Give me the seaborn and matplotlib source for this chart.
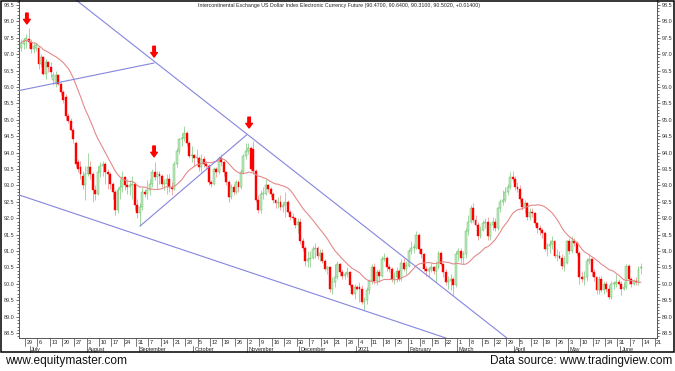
import numpy as np
import pandas as pd
import matplotlib
matplotlib.use('Agg')
import matplotlib.pyplot as plt
import matplotlib.transforms as mtransforms
from matplotlib.patches import Rectangle
import seaborn as sns

# Dados diarios (OHLC), 25/06/2020 a 11/06/2021 (dias uteis)
opens = [
    97.20, 97.30, 97.40, 97.45,
    97.38, 97.15, 97.20, 97.20, 96.70, 96.90, 96.40, 96.75, 96.60, 96.20, 96.10, 96.35, 96.10, 95.85, 95.70, 95.10, 94.95, 94.70, 94.30, 93.70, 93.55, 93.30, 93.00,
    93.35, 93.55, 93.35, 92.85, 92.75, 93.40, 93.60, 93.65, 93.40, 93.35, 93.05, 92.80, 92.25, 92.85, 92.95, 93.25, 93.00, 92.95, 93.00, 93.05, 92.40,
    92.15, 92.35, 92.80, 92.75, 92.85, 93.05, 93.40, 93.25, 93.35, 93.30, 93.05, 93.05, 93.20, 92.95, 92.90, 93.65, 94.05, 94.40, 94.45, 94.60, 94.30, 93.90,
    93.92, 93.85, 93.85, 93.55, 93.80, 93.65, 93.60, 93.10, 93.05, 93.50, 93.40, 93.85, 93.70, 93.40, 93.10, 92.65, 92.95, 92.80, 93.10, 92.95, 93.40, 93.90,
    94.05, 94.15, 94.10, 93.45, 92.55, 92.25, 92.75, 92.75, 93.00, 92.90, 92.75, 92.55, 92.45, 92.50, 92.35, 92.40, 92.50, 92.20, 92.05, 92.00, 91.80,
    91.90, 91.30, 91.10, 90.70, 90.75, 90.80, 91.05, 91.10, 90.85, 90.95, 90.70, 90.45, 90.50, 89.85, 90.05, 90.20, 90.60, 90.35, 90.25, 90.30, 90.35, 89.95, 89.70,
    89.90, 89.90, 89.85, 89.45, 89.50, 89.80, 90.10, 90.50, 90.10, 90.35, 90.25, 90.75, 90.80, 90.50, 90.45, 90.15, 90.20, 90.40, 90.15, 90.65, 90.45,
    90.55, 91.00, 91.10, 91.10, 91.50, 91.05, 90.90, 90.45, 90.40, 90.45, 90.50, 90.40, 90.50, 90.95, 90.60, 90.35, 90.05, 90.10, 90.15, 89.95,
    90.90, 91.00, 90.80, 90.90, 91.60, 91.90, 92.30, 91.95, 91.80, 91.45, 91.65, 91.85, 91.90, 91.45, 91.80, 91.90, 91.70, 92.30, 92.50, 92.55, 92.80, 92.95, 93.25,
    93.20, 92.95, 92.90, 92.60, 92.35, 92.45, 92.05, 92.20, 92.15, 91.85, 91.70, 91.65, 91.55, 91.05, 91.15, 91.20, 91.30, 90.85, 90.85, 90.80, 90.55, 90.65,
    91.30, 91.00, 91.30, 91.25, 90.95, 90.20, 90.15, 90.20, 90.70, 90.75, 90.35, 90.20, 89.80, 90.15, 89.80, 90.00, 89.85, 89.60, 90.00, 90.00, 90.05,
    90.00, 89.85, 89.90, 90.55, 90.15, 90.00, 90.10, 90.05, 90.47,
]
highs = [
    97.45, 97.50, 97.60, 97.80,
    97.45, 97.35, 97.35, 97.25, 97.00, 96.95, 96.85, 96.80, 96.75, 96.45, 96.50, 96.40, 96.15, 95.90, 95.80, 95.20, 95.05, 94.75, 94.35, 93.80, 93.75, 93.45, 93.60,
    94.00, 93.75, 93.40, 93.00, 93.60, 93.70, 93.75, 93.70, 93.50, 93.40, 93.10, 92.85, 92.95, 93.20, 93.45, 93.30, 93.20, 93.15, 93.30, 93.10, 92.60,
    92.45, 92.95, 92.90, 93.15, 93.20, 93.50, 93.70, 93.45, 93.45, 93.35, 93.20, 93.35, 93.35, 93.10, 93.75, 94.15, 94.45, 94.60, 94.80, 94.65, 94.35, 94.20,
    93.95, 94.10, 93.90, 93.95, 93.90, 93.75, 93.65, 93.15, 93.55, 93.55, 93.90, 93.95, 93.75, 93.45, 93.15, 93.05, 93.05, 93.15, 93.15, 93.50, 93.95, 94.30,
    94.30, 94.20, 94.35, 93.50, 92.70, 92.85, 92.95, 93.20, 93.05, 92.95, 92.80, 92.60, 92.65, 92.70, 92.50, 92.80, 92.55, 92.25, 92.15, 92.05, 92.00,
    92.00, 91.40, 91.15, 91.00, 91.00, 91.15, 91.25, 91.15, 91.05, 91.05, 90.75, 90.55, 90.55, 90.20, 90.60, 90.70, 90.65, 90.45, 90.35, 90.50, 90.40, 90.00, 90.00,
    89.95, 90.05, 89.95, 89.60, 89.90, 90.15, 90.60, 90.65, 90.45, 90.45, 90.85, 90.95, 90.85, 90.60, 90.50, 90.35, 90.50, 90.45, 90.75, 90.80, 90.70,
    91.05, 91.30, 91.20, 91.60, 91.55, 91.10, 90.95, 90.55, 90.50, 90.65, 90.55, 90.70, 91.00, 91.00, 90.65, 90.45, 90.25, 90.30, 90.20, 91.00,
    91.10, 91.10, 91.00, 91.70, 92.10, 92.40, 92.45, 92.10, 91.90, 91.75, 91.95, 92.00, 92.05, 91.90, 92.05, 92.00, 92.35, 92.60, 92.85, 92.95, 93.05, 93.40, 93.45,
    93.30, 93.10, 93.00, 92.65, 92.55, 92.50, 92.30, 92.30, 92.20, 91.90, 91.80, 91.70, 91.60, 91.25, 91.35, 91.45, 91.35, 91.05, 91.00, 90.90, 90.85, 91.35,
    91.40, 91.45, 91.40, 91.30, 91.00, 90.40, 90.40, 90.80, 90.90, 90.80, 90.45, 90.25, 90.25, 90.25, 90.10, 90.10, 89.95, 90.10, 90.10, 90.30, 90.15,
    90.10, 90.05, 90.60, 90.60, 90.20, 90.15, 90.20, 90.55, 90.64,
]
lows = [
    97.10, 97.15, 97.20, 97.20,
    97.05, 97.05, 97.10, 96.55, 96.60, 96.35, 96.25, 96.45, 96.30, 96.05, 96.00, 96.05, 95.75, 95.50, 95.00, 94.90, 94.65, 94.30, 93.55, 93.40, 93.20, 92.90, 92.55,
    93.30, 93.20, 92.50, 92.55, 92.70, 93.25, 93.30, 93.05, 92.90, 92.90, 92.60, 92.10, 92.15, 92.60, 92.80, 92.85, 92.75, 92.70, 92.60, 92.25, 92.00,
    91.75, 92.25, 92.65, 92.60, 92.70, 92.95, 93.15, 92.90, 93.05, 92.95, 92.85, 92.75, 92.80, 92.70, 92.85, 93.55, 93.95, 94.20, 94.35, 94.20, 93.85, 93.70,
    93.60, 93.70, 93.45, 93.40, 93.55, 93.50, 93.00, 92.95, 93.00, 93.25, 93.35, 93.60, 93.30, 93.00, 92.50, 92.60, 92.70, 92.75, 92.80, 92.90, 93.35, 93.80,
    93.95, 93.45, 93.35, 92.50, 92.15, 92.15, 92.60, 92.70, 92.80, 92.65, 92.45, 92.30, 92.30, 92.25, 92.20, 92.05, 92.15, 91.95, 91.90, 91.70, 91.55,
    91.20, 91.00, 90.55, 90.50, 90.50, 90.75, 90.80, 90.75, 90.70, 90.65, 90.40, 90.30, 89.75, 89.70, 89.90, 90.15, 90.25, 90.15, 90.15, 90.20, 89.90, 89.65, 89.55,
    89.80, 89.45, 89.40, 89.20, 89.40, 89.70, 90.00, 90.00, 89.95, 90.05, 90.20, 90.70, 90.40, 90.35, 90.05, 90.00, 90.05, 90.10, 90.10, 90.40, 90.30,
    90.50, 90.90, 90.95, 91.05, 90.95, 90.80, 90.40, 90.25, 90.20, 90.35, 90.30, 90.05, 90.45, 90.55, 90.20, 89.95, 89.85, 89.80, 89.65, 89.90,
    90.70, 90.65, 90.60, 90.80, 91.50, 91.85, 91.85, 91.75, 91.35, 91.40, 91.60, 91.70, 91.35, 91.35, 91.65, 91.60, 91.65, 92.20, 92.40, 92.50, 92.70, 92.90, 93.10,
    92.85, 92.80, 92.50, 92.25, 92.15, 91.95, 91.95, 92.05, 91.75, 91.55, 91.50, 91.40, 91.00, 90.85, 90.95, 91.05, 90.80, 90.70, 90.75, 90.45, 90.40, 90.60,
    90.90, 90.95, 91.15, 90.85, 90.00, 90.05, 89.95, 90.10, 90.60, 90.25, 90.10, 89.70, 89.70, 89.75, 89.70, 89.75, 89.55, 89.55, 89.85, 89.90, 89.95,
    89.65, 89.80, 89.85, 90.00, 89.90, 89.95, 89.95, 89.95, 90.31,
]
closes = [
    97.35, 97.42, 97.50, 97.38,
    97.15, 97.25, 97.28, 96.70, 96.90, 96.40, 96.75, 96.60, 96.45, 96.35, 96.35, 96.10, 95.85, 95.60, 95.10, 94.95, 94.70, 94.40, 93.65, 93.50, 93.35, 93.00, 93.35,
    93.55, 93.35, 92.85, 92.75, 93.40, 93.60, 93.65, 93.40, 93.35, 93.05, 92.80, 92.25, 92.85, 92.95, 93.25, 93.00, 92.95, 93.00, 93.05, 92.40, 92.15,
    92.35, 92.80, 92.75, 92.85, 93.05, 93.40, 93.25, 93.35, 93.30, 93.05, 93.07, 93.20, 92.95, 92.90, 93.65, 94.05, 94.40, 94.45, 94.60, 94.30, 93.90, 93.92,
    93.85, 93.88, 93.55, 93.80, 93.65, 93.60, 93.10, 93.05, 93.50, 93.40, 93.85, 93.70, 93.40, 93.10, 92.65, 92.95, 92.80, 93.10, 92.95, 93.40, 93.90, 94.05,
    94.15, 93.50, 93.45, 92.55, 92.25, 92.75, 92.78, 93.00, 92.90, 92.75, 92.55, 92.45, 92.50, 92.35, 92.40, 92.50, 92.20, 92.05, 92.00, 91.80, 91.90,
    91.30, 91.10, 90.70, 90.75, 90.80, 91.05, 91.10, 90.85, 90.95, 90.70, 90.45, 90.50, 89.85, 90.05, 90.20, 90.60, 90.35, 90.25, 90.30, 90.35, 89.95, 89.70, 89.90,
    89.85, 89.85, 89.45, 89.50, 89.80, 90.10, 90.50, 90.10, 90.35, 90.25, 90.75, 90.80, 90.50, 90.45, 90.15, 90.20, 90.40, 90.15, 90.65, 90.45, 90.55,
    91.00, 91.10, 91.12, 91.50, 91.05, 90.90, 90.45, 90.40, 90.45, 90.50, 90.40, 90.50, 90.95, 90.60, 90.35, 90.05, 90.10, 90.15, 89.95, 90.90,
    91.00, 90.80, 90.90, 91.60, 91.90, 92.30, 91.95, 91.80, 91.45, 91.65, 91.85, 91.90, 91.45, 91.80, 91.90, 91.70, 92.30, 92.50, 92.55, 92.80, 92.95, 93.25, 93.20,
    92.95, 92.90, 92.60, 92.35, 92.45, 92.05, 92.20, 92.15, 91.85, 91.70, 91.65, 91.55, 91.05, 91.15, 91.20, 91.30, 90.85, 90.88, 90.80, 90.55, 90.65, 91.30,
    91.00, 91.30, 91.25, 90.95, 90.20, 90.15, 90.20, 90.70, 90.75, 90.35, 90.20, 89.80, 90.15, 89.80, 90.00, 89.85, 89.60, 90.00, 90.02, 90.05, 90.00,
    89.85, 89.90, 90.55, 90.15, 90.00, 90.10, 90.05, 90.45, 90.50,
]

# Linhas de tendencia (indice do pregao, valor)
linhas_tendencia = [
    ((22.2, 98.65), (196.7, 88.35)),
    ((-0.9, 95.89), (53.8, 96.73)),
    ((48.1, 91.76), (91.3, 94.54)),
    ((-0.9, 92.71), (172.0, 88.35)),
]
# Setas vermelhas (indice do pregao, ponta)
setas_x = [2.3, 53.8, 53.8, 92.3]
setas_y = [97.92, 96.91, 93.87, 94.75]

titulo = ('Intercontinental Exchange US Dollar Index Electronic Currency Future '
          '(90.4700, 90.6400, 90.3100, 90.5020, +0.01400)')
meses = ['2021', 'February', 'March', 'April', 'May', 'June', 'July',
         'August', 'September', 'October', 'November', 'December']

datas = pd.bdate_range('2020-06-25', '2021-06-11')
df = pd.DataFrame({'data': datas, 'open': opens, 'high': highs,
                   'low': lows, 'close': closes})
df['idx'] = np.arange(len(df))
df['mm20'] = df['close'].rolling(20, min_periods=1).mean()

sns.set_style('white')
plt.rcParams['font.family'] = ['Liberation Sans', 'DejaVu Sans']

fig = plt.figure(figsize=(6.75, 3.71), dpi=100)
ax = fig.add_axes([19 / 675, 33 / 371, 638 / 675, 338 / 371])

# Candles
alta = df['close'] >= df['open']
ax.vlines(df['idx'], df['low'], df['high'],
          colors=np.where(alta, '#93d193', '#f29a9a'), lw=0.6, zorder=2)
corpo = (df['close'] - df['open']).abs().clip(lower=0.025)
ax.bar(df['idx'], corpo, bottom=np.minimum(df['open'], df['close']), width=0.78,
       color=np.where(alta, '#bfe8bf', '#ff0000'),
       edgecolor=np.where(alta, '#5cb85c', '#ff0000'), lw=0.3, zorder=3)

# Media movel de 20 dias
sns.lineplot(data=df, x='idx', y='mm20', ax=ax, color='#e48a8a', lw=0.8,
             legend=False, zorder=4)

for (x0, y0), (x1, y1) in linhas_tendencia:
    ax.plot([x0, x1], [y0, y1], color='#8585e0', lw=0.8, zorder=5)

for sx, sy in zip(setas_x, setas_y):
    ax.annotate('', xy=(sx, sy), xytext=(sx, sy + 0.33),
                arrowprops=dict(arrowstyle='simple,head_width=0.8,head_length=0.55,tail_width=0.3',
                                color='red', mutation_scale=6, shrinkA=0, shrinkB=0),
                zorder=6)

ax.set_xlim(-0.9, 257.5)
ax.set_ylim(88.35, 98.65)
ax.set_xlabel('')
ax.set_ylabel('')
ax.set_xticks([])
ax.set_yticks(np.arange(88.5, 98.51, 0.5))
ax.set_yticks(np.arange(88.4, 98.65, 0.1), minor=True)
ax.yaxis.set_major_formatter(matplotlib.ticker.FormatStrFormatter('%.1f'))
ax.tick_params(axis='y', which='both', left=True, right=True, labelleft=True,
               labelright=True, direction='out', labelsize=4, pad=1,
               colors='#333333', width=0.5)
ax.tick_params(axis='y', which='major', length=2.5)
ax.tick_params(axis='y', which='minor', length=1.2)
ax.spines['top'].set_visible(False)
for lado in ['left', 'right', 'bottom']:
    ax.spines[lado].set_color('#555555')
    ax.spines[lado].set_linewidth(0.7)

# Faixa de datas abaixo do grafico
trans = mtransforms.blended_transform_factory(ax.transData, ax.transAxes)
cal = pd.bdate_range('2020-06-25', '2021-06-25')
for i, d in enumerate(cal):
    if i - 0.5 > 257.5:
        break
    if d.dayofweek == 0:
        ax.plot([i - 0.5, i - 0.5], [0, -0.024], transform=trans, color='#444444',
                lw=0.5, clip_on=False)
        ax.text(i - 0.5 + 0.6, -0.0125, str(d.day), transform=trans, fontsize=4,
                ha='left', va='center', color='#222222')
    if i > 0 and d.month != cal[i - 1].month:
        ax.plot([i - 0.5, i - 0.5], [-0.024, -0.0415], transform=trans,
                color='#444444', lw=0.5, clip_on=False)
        ax.text(i - 0.5 + 0.6, -0.033, meses[d.month - 1], transform=trans,
                fontsize=4, ha='left', va='center', color='#222222')

fig.text(198 / 675, 1 - 5.5 / 371, titulo, fontsize=3.8, ha='left', va='center',
         color='#222222')
fig.patches.append(Rectangle((0.6 / 675, 19 / 371), 673.6 / 675, 351.4 / 371,
                             transform=fig.transFigure, fill=False, ec='black',
                             lw=1.1))
fig.text(5 / 675, 10 / 371, 'www.equitymaster.com', fontsize=8.6, ha='left',
         va='center', color='#111111')
fig.text(672 / 675, 10 / 371, 'Data source: www.tradingview.com', fontsize=8.5,
         ha='right', va='center', color='#111111')

fig.savefig('out.png', dpi=100)
